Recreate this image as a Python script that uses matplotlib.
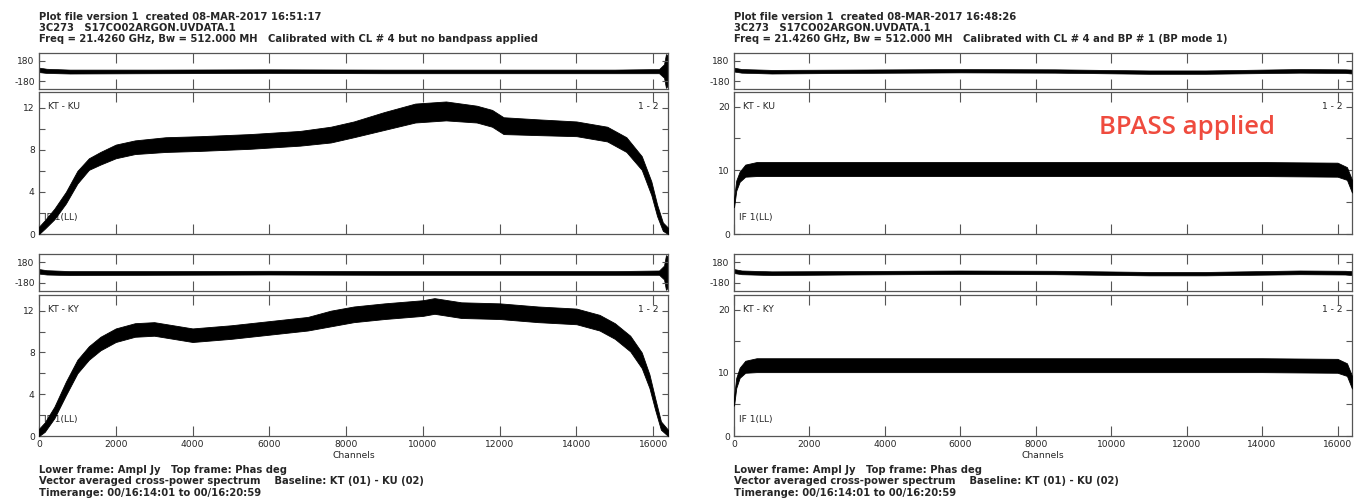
"""
AIPS-style POSSM spectra: before / after bandpass calibration.
"""

import matplotlib
matplotlib.use("Agg")
import matplotlib.pyplot as plt
from matplotlib.ticker import FixedLocator

W, H = 1356, 504

# ── Data ─────────────────────────────────────────────
x_ticks = [0, 2000, 4000, 6000, 8000, 10000, 12000, 14000, 16000]
n_chan = 16384

# left panel, no bandpass: KT-KU amplitude envelope
raw_ku_chan = [1, 150, 400, 700, 1000, 1300, 1600, 2000, 2500, 3300, 4200, 5500, 6800,
               7600, 8200, 9000, 9800, 10600, 11400, 11800, 12100, 13000, 14000, 14800,
               15300, 15700, 15950, 16100, 16250, 16384]
raw_ku_lo = [0.0, 0.5, 1.4, 2.9, 4.8, 6.1, 6.6, 7.2, 7.6, 7.8, 7.9, 8.1, 8.4,
             8.7, 9.2, 9.9, 10.6, 10.8, 10.6, 10.2, 9.5, 9.4, 9.3, 8.8,
             7.8, 6.1, 3.7, 1.7, 0.3, 0.0]
raw_ku_hi = [0.7, 1.3, 2.4, 4.0, 6.0, 7.2, 7.8, 8.5, 8.9, 9.2, 9.3, 9.5, 9.8,
             10.2, 10.7, 11.6, 12.4, 12.6, 12.2, 11.8, 11.1, 10.9, 10.7, 10.2,
             9.2, 7.4, 5.0, 2.8, 1.1, 0.6]

# left panel, no bandpass: KT-KY amplitude envelope
raw_ky_chan = [1, 150, 400, 700, 1000, 1300, 1600, 2000, 2500, 3000, 3500, 4000, 5000,
               6000, 7000, 7600, 8200, 9000, 10000, 10300, 11000, 12000, 13000, 14000,
               14600, 15000, 15400, 15700, 15900, 16050, 16200, 16384]
raw_ky_lo = [0.0, 0.4, 1.7, 3.9, 6.0, 7.3, 8.2, 9.0, 9.5, 9.6, 9.3, 9.0, 9.3,
             9.7, 10.1, 10.5, 10.9, 11.2, 11.5, 11.7, 11.3, 11.2, 10.9, 10.7,
             10.1, 9.3, 8.1, 6.5, 4.6, 2.5, 0.6, 0.0]
raw_ky_hi = [0.7, 1.3, 2.8, 5.2, 7.3, 8.6, 9.5, 10.3, 10.8, 10.9, 10.6, 10.3, 10.6,
             11.0, 11.4, 12.0, 12.4, 12.7, 13.0, 13.2, 12.8, 12.7, 12.4, 12.2,
             11.6, 10.8, 9.6, 8.0, 5.9, 3.6, 1.4, 0.6]

# right panel, bandpass applied: amplitude envelopes
bp_ku_chan = [1, 60, 150, 300, 600, 2000, 8000, 14000, 16000, 16250, 16384]
bp_ku_lo = [4.2, 6.8, 8.2, 9.0, 9.1, 9.1, 9.1, 9.1, 9.0, 8.5, 6.5]
bp_ku_hi = [5.6, 8.4, 9.8, 10.9, 11.3, 11.3, 11.3, 11.3, 11.2, 10.5, 8.5]

bp_ky_chan = [1, 60, 150, 300, 600, 2000, 8000, 14000, 16000, 16250, 16384]
bp_ky_lo = [4.8, 7.6, 9.2, 10.0, 10.1, 10.1, 10.1, 10.1, 10.0, 9.5, 7.5]
bp_ky_hi = [6.2, 9.2, 10.8, 11.9, 12.3, 12.3, 12.3, 12.3, 12.2, 11.5, 9.5]

# phase envelopes (deg)
raw_ph_chan = [1, 200, 800, 3000, 6000, 9000, 12000, 15000, 16150, 16280, 16330, 16384]
raw_ph_lo = [-20, -35, -45, -40, -35, -40, -40, -40, -40, -120, -300, -260]
raw_ph_hi = [60, 40, 25, 25, 30, 25, 25, 25, 35, 120, 300, 280]

bp_ph_chan = [1, 200, 1000, 3000, 6000, 8500, 11000, 12500, 15000, 16200, 16384]
bp_ph_lo = [-10, -30, -45, -35, -25, -30, -50, -50, -30, -35, -45]
bp_ph_hi = [60, 35, 20, 25, 35, 30, 10, 10, 35, 30, 25]

left_header = [
    "Plot file version 1  created 08-MAR-2017 16:51:17",
    "3C273   S17CO02ARGON.UVDATA.1",
    "Freq = 21.4260 GHz, Bw = 512.000 MH   Calibrated with CL # 4 but no bandpass applied",
]
right_header = [
    "Plot file version 1  created 08-MAR-2017 16:48:26",
    "3C273   S17CO02ARGON.UVDATA.1",
    "Freq = 21.4260 GHz, Bw = 512.000 MH   Calibrated with CL # 4 and BP # 1 (BP mode 1)",
]
footer = [
    "Lower frame: Ampl Jy   Top frame: Phas deg",
    "Vector averaged cross-power spectrum    Baseline: KT (01) - KU (02)",
    "Timerange: 00/16:14:01 to 00/16:20:59",
]

plt.rcParams["font.family"] = "DejaVu Sans"
INK = "#262626"
SPINE = "#555555"
SMALL = 6.6
TEXT = 7.2


def px_axes(fig, x0, x1, top, bottom):
    return fig.add_axes([x0 / W, 1 - bottom / H, (x1 - x0) / W, (bottom - top) / H])


def style_axes(ax):
    for sp in ax.spines.values():
        sp.set_color(SPINE)
        sp.set_linewidth(0.9)
    ax.set_xlim(0, n_chan)
    ax.xaxis.set_major_locator(FixedLocator(x_ticks))
    ax.tick_params(axis="x", which="major", direction="in", top=True, bottom=True,
                   length=7.5, width=0.8, color=SPINE, labelbottom=False)
    ax.tick_params(axis="y", which="both", direction="in", left=True, right=True,
                   length=4, width=0.8, color=SPINE, labelsize=SMALL, labelcolor=INK, pad=3)


def phase_axes(fig, x0, x1, top, bottom, chan, lo, hi):
    ax = px_axes(fig, x0, x1, top, bottom)
    style_axes(ax)
    ax.fill_between(chan, lo, hi, color="black", lw=0.5)
    ax.set_ylim(-320, 320)
    ax.set_yticks([-180, 180])
    ax.set_yticklabels(["-180", "180"])
    return ax


def amp_axes(fig, x0, x1, top, bottom, chan, lo, hi, ymax, major, minor, label):
    ax = px_axes(fig, x0, x1, top, bottom)
    style_axes(ax)
    ax.fill_between(chan, lo, hi, color="black", lw=0.6, zorder=3)
    ax.set_ylim(0, ymax)
    ax.set_yticks(major)
    ax.yaxis.set_minor_locator(FixedLocator(minor))
    kw = dict(fontsize=SMALL, color=INK, transform=ax.transAxes, zorder=1)
    ax.text(0.015, 0.9, label, ha="left", va="center", **kw)
    ax.text(0.985, 0.9, "1 - 2", ha="right", va="center", **kw)
    ax.text(0.008, 0.115, "IF 1(LL)", ha="left", va="center", **kw)
    return ax


def draw_panel(fig, x0, x1, sets, ymax, major, minor, header):
    for i, line in enumerate(header):
        fig.text(x0 / W, 1 - (17 + 11 * i) / H, line, fontsize=TEXT, color=INK,
                 fontweight="bold", ha="left", va="center")
    rows = [(53, 89, 92, 234), (254, 291, 295, 436)]
    ax = None
    for (pt, pb, at, ab), (chan, lo, hi, ph_chan, ph_lo, ph_hi, label) in zip(rows, sets):
        phase_axes(fig, x0, x1, pt, pb, ph_chan, ph_lo, ph_hi)
        ax = amp_axes(fig, x0, x1, at, ab, chan, lo, hi, ymax, major, minor, label)
    ax.tick_params(axis="x", labelbottom=True, labelsize=SMALL, labelcolor=INK, pad=3)
    ax.set_xlabel("Channels", fontsize=SMALL, color=INK, labelpad=1)
    for i, line in enumerate(footer):
        fig.text(x0 / W, 1 - (470 + 11.5 * i) / H, line, fontsize=TEXT, color=INK,
                 fontweight="bold", ha="left", va="center")
    return ax


fig = plt.figure(figsize=(W / 100, H / 100), dpi=100)

draw_panel(fig, 39, 668,
           [(raw_ku_chan, raw_ku_lo, raw_ku_hi, raw_ph_chan, raw_ph_lo, raw_ph_hi, "KT - KU"),
            (raw_ky_chan, raw_ky_lo, raw_ky_hi, raw_ph_chan, raw_ph_lo, raw_ph_hi, "KT - KY")],
           13.5, [0, 4, 8, 12], [2, 6, 10], left_header)

draw_panel(fig, 734, 1352,
           [(bp_ku_chan, bp_ku_lo, bp_ku_hi, bp_ph_chan, bp_ph_lo, bp_ph_hi, "KT - KU"),
            (bp_ky_chan, bp_ky_lo, bp_ky_hi, bp_ph_chan, bp_ph_lo, bp_ph_hi, "KT - KY")],
           22.3, [0, 10, 20], [5, 15], right_header)

fig.text(1187 / W, 1 - 128 / H, "BPASS applied", fontsize=18.5, fontweight="semibold",
         family="Open Sans", color="#ef4b3e", ha="center", va="center")

fig.savefig("out.png", dpi=100)
